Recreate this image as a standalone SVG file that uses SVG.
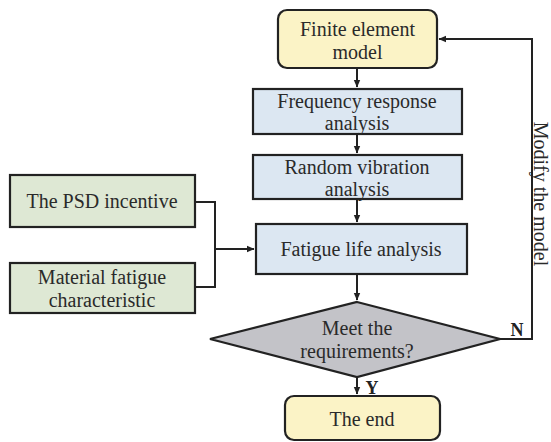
<svg xmlns="http://www.w3.org/2000/svg" width="551" height="442" viewBox="0 0 551 442">
<style>
.box{stroke:#222;stroke-width:2.2}
.y{fill:#FBF3C6}
.b{fill:#DCE7F2}
.g{fill:#DEE8D4}
.d{fill:#C3C3C8}
text{font-family:"Liberation Serif","Times New Roman",serif;font-size:20px;fill:#2a2a2a;text-anchor:middle}
.c{fill:none;stroke:#222;stroke-width:2}
.lbl{font-weight:bold;font-size:18px;fill:#222}
</style>
<defs>
<marker id="ah" markerWidth="8" markerHeight="8" refX="7" refY="4" orient="auto" markerUnits="userSpaceOnUse">
<path d="M0,0.8 L7.5,4 L0,7.2 Z" fill="#222"/>
</marker>
</defs>
<rect width="551" height="442" fill="#fff"/>
<g id="connectors">
<path class="c" d="M357,68 V87" marker-end="url(#ah)"/>
<path class="c" d="M357,134 V153" marker-end="url(#ah)"/>
<path class="c" d="M357,199 V222" marker-end="url(#ah)"/>
<path class="c" d="M195,202 H215 V287 H195"/>
<path class="c" d="M215,249 H254" marker-end="url(#ah)"/>
<path class="c" d="M357,274 V300" marker-end="url(#ah)"/>
<path class="c" d="M357,377 V394" marker-end="url(#ah)"/>
<path class="c" d="M500,339 H532 V39 H439" marker-end="url(#ah)"/>
<text class="lbl" x="517" y="336">N</text>
<text class="lbl" x="372" y="394">Y</text>
<text x="534" y="194" font-size="18.5" transform="rotate(90 534 194)">Modify the model</text>
</g>
<g id="finite">
<rect class="box y" x="278" y="10" width="159" height="58" rx="9"/>
<text x="357.5" y="36">Finite element</text>
<text x="357.5" y="59">model</text>
</g>
<g id="frequency">
<rect class="box b" x="253" y="89" width="209" height="45"/>
<text x="357" y="108">Frequency response</text>
<text x="357" y="130">analysis</text>
</g>
<g id="random">
<rect class="box b" x="253" y="155" width="209" height="44"/>
<text x="357" y="174">Random vibration</text>
<text x="357" y="196">analysis</text>
</g>
<g id="fatigue">
<rect class="box b" x="256" y="224" width="211" height="50"/>
<text x="361" y="256">Fatigue life analysis</text>
</g>
<g id="psd">
<rect class="box g" x="10" y="175" width="185" height="52"/>
<text x="102" y="208">The PSD incentive</text>
</g>
<g id="material">
<rect class="box g" x="10" y="263" width="185" height="50"/>
<text x="102" y="284">Material fatigue</text>
<text x="102" y="307">characteristic</text>
</g>
<g id="decision">
<polygon class="box d" points="357,302 500,339 357,377 210,339"/>
<text x="357" y="335">Meet the</text>
<text x="357" y="358">requirements?</text>
</g>
<g id="end">
<rect class="box y" x="285" y="396" width="155" height="44" rx="9"/>
<text x="362" y="426">The end</text>
</g>
</svg>
